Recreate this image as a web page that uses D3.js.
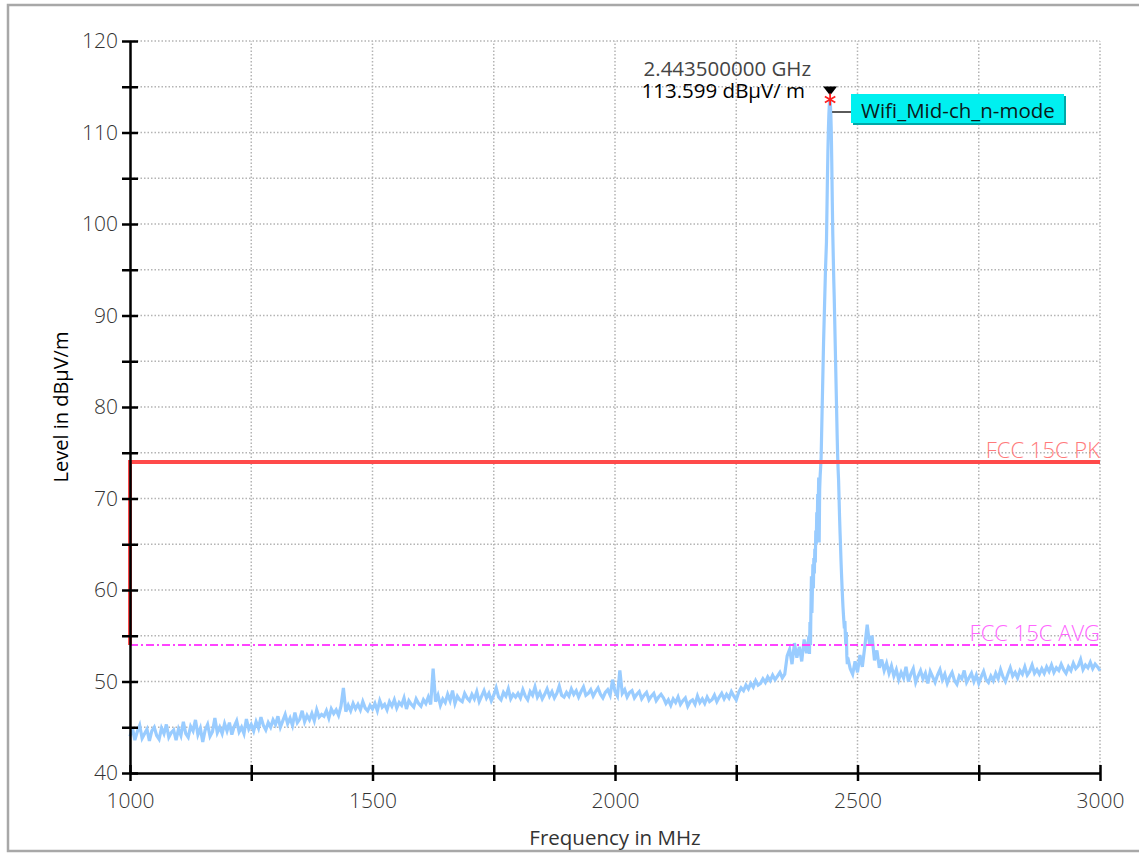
<!DOCTYPE html>
<html><head><meta charset="utf-8">
<script src="https://cdn.jsdelivr.net/npm/d3@7"></script>
<style>
html,body{margin:0;padding:0;background:#fff;}
svg{display:block;font-family:"Open Sans","Noto Sans",sans-serif;}
</style></head>
<body><svg id="c" width="1139" height="854"></svg>
<script>
// ---- data ----
const yTicks = [40,45,50,55,60,65,70,75,80,85,90,95,100,105,110,115,120];
const yLabels = [40,50,60,70,80,90,100,110,120];
const xTicks = [1000,1250,1500,1750,2000,2250,2500,2750,3000];
const xLabels = [1000,1500,2000,2500,3000];
const freqSegments = [[1000,2400,5],[2400,2480,1],[2480,3001,5]];
const levelsLow = [
44.0,44.9,43.6,44.5,45.2,43.8,44.3,44.8,43.5,44.6,45.0,44.1,43.7,44.9,44.3,45.3,43.9,44.4,44.7,43.6,
44.8,44.1,45.6,44.3,43.9,45.1,44.6,45.8,44.2,44.9,43.4,44.7,45.3,44.0,44.5,46.0,44.4,45.0,44.3,45.4,
44.6,45.5,44.2,45.1,45.7,44.5,45.0,44.3,45.9,44.8,45.3,44.6,45.6,44.9,46.1,45.2,44.7,45.5,45.0,45.8,
45.3,46.2,45.0,45.7,46.4,45.4,46.0,45.2,46.6,45.5,45.9,46.8,45.6,46.3,45.8,46.5,45.7,46.9,46.1,46.4,
46.2,46.8,46.0,47.0,46.5,46.9,46.3,47.3,49.3,46.7,47.4,46.8,47.6,47.0,47.5,46.9,47.8,47.1,46.8,47.4,
47.0,47.6,46.8,47.9,47.2,47.5,46.9,47.8,47.3,48.0,47.1,47.7,47.4,48.2,47.0,47.9,47.5,47.2,48.1,47.6,
47.3,48.0,47.6,48.3,47.5,51.4,47.8,48.5,47.4,48.1,47.7,48.6,47.9,49.0,47.6,48.4,48.0,47.8,48.7,48.2,
47.9,48.6,48.1,48.9,47.8,48.4,49.0,48.2,48.7,47.9,48.5,49.3,48.3,48.0,48.8,48.4,49.2,48.1,48.6,48.3,
48.7,48.2,49.1,48.4,48.0,48.9,48.5,49.4,48.3,48.8,48.1,48.6,49.2,48.4,48.9,48.2,48.7,49.5,48.5,48.3,
48.8,48.4,49.2,48.6,49.0,48.3,48.9,49.4,48.5,48.7,49.1,48.4,48.9,49.3,48.6,48.2,48.8,49.1,48.5,50.2,
48.9,48.4,51.2,48.7,49.1,48.3,48.8,49.0,48.2,48.6,48.9,48.1,48.5,48.8,48.0,48.4,48.7,47.9,48.3,48.6,
48.2,47.6,48.0,47.4,48.1,47.7,48.3,47.5,47.9,48.2,47.3,47.8,48.0,47.5,48.4,47.7,48.1,47.6,48.3,47.8,
48.0,48.5,47.8,48.3,48.7,48.1,48.6,48.2,48.9,48.4,48.0,48.8,49.3,49.0,49.6,49.2,49.8,49.4,50.1,49.6,
49.8,50.3,49.9,50.5,50.1,50.7,50.2,50.6,51.0,50.4,50.8,52.8,53.5,51.9,54.2,52.6,53.8,52.2,54.6,53.1
];
const levelsPeak = [
55.0,53.0,56.5,54.0,58.0,61.5,57.5,60.0,62.8,60.2,
63.5,61.8,64.5,63.0,66.5,65.0,68.5,67.0,70.5,69.0,
72.3,65.2,71.0,72.5,73.4,74.5,77.0,79.5,82.0,84.5,
87.0,89.0,91.0,93.0,95.0,96.5,98.0,101.5,105.0,108.0,
110.3,112.0,113.1,113.599,113.2,112.0,110.0,106.5,102.5,99.0,
96.5,94.0,92.0,89.5,87.0,84.5,82.0,79.5,77.0,74.8,
73.2,72.0,70.0,68.0,66.3,64.8,63.2,61.8,60.5,59.3,
58.2,57.3,56.5,55.8,56.6,55.0,54.0,55.4,52.8,51.9
];
const levelsHigh = [
52.6,51.4,50.8,52.2,51.0,52.9,51.6,53.8,56.2,54.0,55.0,52.3,53.4,51.5,52.4,51.2,52.0,50.9,51.7,50.6,
51.3,50.2,51.0,50.4,51.6,50.0,50.8,51.4,49.9,50.6,51.2,50.3,50.9,49.8,51.1,50.5,49.9,50.7,51.3,50.2,
50.8,49.8,50.5,51.0,50.1,49.7,50.6,50.3,51.2,49.9,50.4,50.9,50.0,50.7,49.8,50.5,51.1,50.2,49.9,50.6,
50.1,50.9,50.3,51.3,50.5,50.0,50.8,51.5,50.6,51.0,50.4,51.2,50.8,51.6,50.7,51.1,51.8,50.9,51.3,50.8,
51.4,50.9,51.6,51.1,51.8,51.0,51.5,51.2,51.9,51.3,50.9,51.6,51.2,52.0,51.4,51.7,52.4,51.3,51.8,51.5,
52.1,51.4,51.9,51.6,51.2
];
const pkLimitFreq = [1000,1000,3000];
const pkLimitLevel = [54,74,74];
const avgLimitFreq = [1000,3000];
const avgLimitLevel = [54,54];
const markerFreq = 2443.5;
const markerLevel = 113.599;
const markerLabel1 = "2.443500000 GHz";
const markerLabel2 = "113.599 dBμV/ m";
const legendLabel = "Wifi_Mid-ch_n-mode";
const pkLabel = "FCC 15C PK";
const avgLabel = "FCC 15C AVG";
const xTitle = "Frequency in MHz";
const yTitle = "Level in dBμV/m";

// ---- build ----
const freqs = [].concat(...freqSegments.map(s => d3.range(s[0], s[1], s[2])));
const levels = levelsLow.concat(levelsPeak, levelsHigh);
const trace = freqs.map((f,i) => [f, levels[i]]);

const svg = d3.select("#c");
const x = d3.scaleLinear([1000,3000],[130,1100]);
const y = d3.scaleLinear([40,120],[773,41]);

// outer frame
svg.append("rect").attr("x",8).attr("y",5).attr("width",1150).attr("height",846)
  .attr("fill","#fff").attr("stroke","#a8a8a8").attr("stroke-width",2.5);

// grid
const grid = svg.append("g").attr("stroke","#b4b4b4").attr("stroke-width",1.5).attr("stroke-dasharray","1.5,2");
grid.selectAll("line.h").data(yTicks.filter(v=>v>40)).join("line")
  .attr("x1",x(1000)).attr("x2",x(3000)).attr("y1",d=>y(d)).attr("y2",d=>y(d));
grid.selectAll("line.v").data(xTicks.filter(v=>v>1000)).join("line")
  .attr("y1",y(40)).attr("y2",y(120)).attr("x1",d=>x(d)).attr("x2",d=>x(d));

// trace
svg.append("path").datum(trace)
  .attr("fill","none").attr("stroke","#99ccff").attr("stroke-width",3.2).attr("stroke-linejoin","miter")
  .attr("d", d3.line().x(d=>x(d[0])).y(d=>y(d[1])));

// limit lines
svg.append("path").datum(avgLimitFreq.map((f,i)=>[f,avgLimitLevel[i]]))
  .attr("fill","none").attr("stroke","#ff44ff").attr("stroke-width",2).attr("stroke-dasharray","8,3,2,3")
  .attr("d", d3.line().x(d=>x(d[0])).y(d=>y(d[1])));
svg.append("path").datum(pkLimitFreq.map((f,i)=>[f,pkLimitLevel[i]]))
  .attr("fill","none").attr("stroke","#ff4a4a").attr("stroke-width",4)
  .attr("d", d3.line().x(d=>x(d[0])).y(d=>y(d[1])));

svg.append("text").attr("x",x(3000)).attr("y",y(74)-4).attr("text-anchor","end")
  .attr("font-size",22).attr("font-weight",300).attr("fill","#ff7a7a").text(pkLabel);
svg.append("text").attr("x",x(3000)).attr("y",y(54)-4).attr("text-anchor","end")
  .attr("font-size",22).attr("font-weight",300).attr("fill","#ff66ff").text(avgLabel);

// axes
const yAxis = d3.axisLeft(y).tickValues(yTicks).tickSizeInner(8).tickSizeOuter(0).tickPadding(4)
  .tickFormat(d => yLabels.includes(d) ? d : "");
const gy = svg.append("g").attr("transform",`translate(${x(1000)},0)`).call(yAxis);
const xAxis = d3.axisBottom(x).tickValues(xTicks).tickSizeInner(8).tickSizeOuter(0).tickPadding(12)
  .tickFormat(d => xLabels.includes(d) ? d : "");
const gx = svg.append("g").attr("transform",`translate(0,${y(40)})`).call(xAxis);
[gx,gy].forEach(g=>{
  g.select(".domain").attr("stroke","#000").attr("stroke-width",2.5);
  g.selectAll(".tick line").attr("stroke","#000").attr("stroke-width",2.5);
  g.selectAll(".tick text").attr("font-family","Open Sans, sans-serif").attr("font-size",21)
    .attr("font-weight",300).attr("fill","#333");
});
gy.selectAll(".tick line").attr("x1",-8).attr("x2",8);
gx.selectAll(".tick line").attr("y1",-8).attr("y2",8);

// axis titles
svg.append("text").attr("x",615).attr("y",845).attr("text-anchor","middle")
  .attr("font-size",20.5).attr("fill","#333").text(xTitle);
svg.append("text").attr("transform","translate(68,407) rotate(-90)").attr("text-anchor","middle")
  .attr("font-size",20).attr("fill","#000").text(yTitle);

// marker
const mx = x(markerFreq), my = y(markerLevel);
svg.append("path").attr("d",`M${mx-7},${my-13}L${mx+7},${my-13}L${mx},${my-4}Z`).attr("fill","#000");
const star = svg.append("g").attr("stroke","#ff2020").attr("stroke-width",1.8);
[0,60,120].forEach(a=>{
  const r=6, t=a*Math.PI/180;
  star.append("line").attr("x1",mx-r*Math.sin(t)).attr("y1",my-r*Math.cos(t))
    .attr("x2",mx+r*Math.sin(t)).attr("y2",my+r*Math.cos(t));
});
svg.append("text").attr("x",mx-19).attr("y",my-24).attr("text-anchor","end")
  .attr("font-size",20.5).attr("fill","#444").text(markerLabel1);
svg.append("text").attr("x",mx-25).attr("y",my-2).attr("text-anchor","end")
  .attr("font-size",20.5).attr("fill","#000").text(markerLabel2);

// legend label box
svg.append("line").attr("x1",mx+2).attr("x2",852).attr("y1",112).attr("y2",112).attr("stroke","#000").attr("stroke-width",1.3);
svg.append("rect").attr("x",853).attr("y",96).attr("width",213).attr("height",29).attr("fill","#00a8a8");
svg.append("rect").attr("x",851).attr("y",94).attr("width",213).attr("height",29).attr("fill","#00f0f0");
svg.append("text").attr("x",861).attr("y",118).attr("font-size",20.5).attr("fill","#0a1a1a").text(legendLabel);
</script></body></html>
